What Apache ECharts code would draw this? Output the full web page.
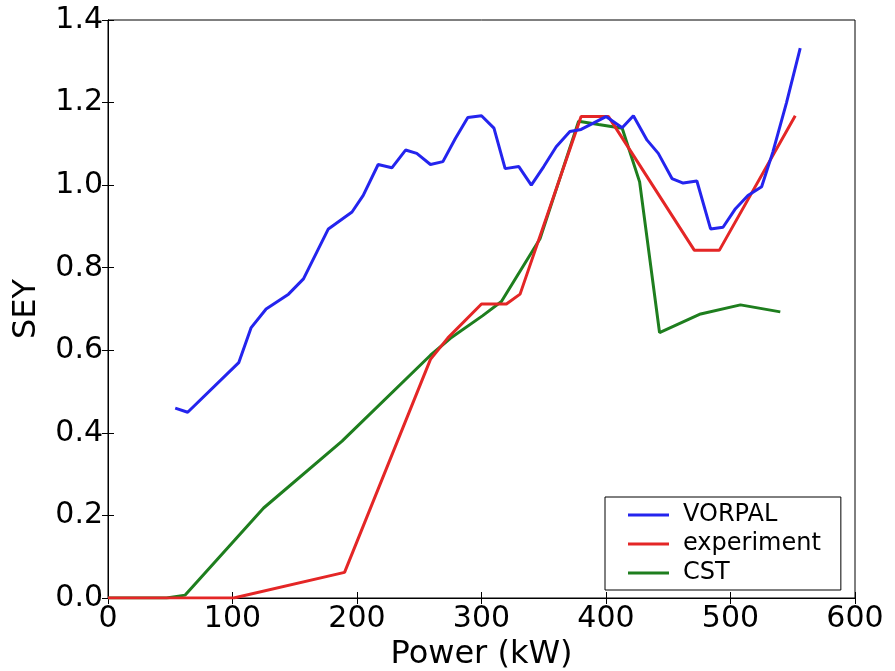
<!DOCTYPE html>
<html>
<head>
<meta charset="utf-8">
<script src="https://cdn.jsdelivr.net/npm/echarts@6/dist/echarts.min.js"></script>
<style>
  html, body { margin: 0; padding: 0; background: #fff; }
  #chart { width: 895px; height: 671px; }
</style>
</head>
<body>
<div id="chart"></div>
<script>
// values
const vorpalX = [54, 64, 105, 115, 127, 145, 157, 177, 196, 205, 217, 228, 239, 248, 259, 269, 279, 289, 300, 310, 319, 330, 340, 350, 360, 371, 380, 400, 413, 422, 433, 442, 453, 462, 473, 484, 494, 504, 514, 525, 534, 545, 556]
const vorpalY = [0.46, 0.45, 0.57, 0.655, 0.70, 0.736, 0.773, 0.894, 0.935, 0.975, 1.05, 1.042, 1.085, 1.077, 1.05, 1.057, 1.113, 1.164, 1.168, 1.138, 1.04, 1.045, 1.0, 1.045, 1.093, 1.13, 1.135, 1.166, 1.139, 1.168, 1.109, 1.077, 1.016, 1.005, 1.01, 0.894, 0.898, 0.943, 0.975, 0.996, 1.08, 1.2, 1.332]

const experimentX = [0, 101, 190, 259, 273, 300, 320, 331, 380, 402, 471, 491, 552]
const experimentY = [0, 0, 0.062, 0.578, 0.63, 0.712, 0.712, 0.736, 1.166, 1.166, 0.842, 0.842, 1.168]

const cstX = [0, 47, 62, 125, 188, 259, 275, 301, 316, 347, 378, 394, 413, 427, 443, 476, 508, 540]
const cstY = [0, 0, 0.007, 0.218, 0.38, 0.588, 0.629, 0.684, 0.718, 0.87, 1.155, 1.147, 1.138, 1.008, 0.643, 0.688, 0.71, 0.693]

const seriesNames = ['VORPAL', 'experiment', 'CST']
const seriesColors = ['#2424ee', '#e42626', '#1e7e1e']

const pairs = (xs, ys) => xs.map((x, i) => [x, ys[i]])

const font = 'DejaVu Sans'
const chart = echarts.init(document.getElementById('chart'))

const baseX = {
  type: 'value',
  min: 0,
  max: 600,
  interval: 100,
  axisLine: { lineStyle: { color: '#000', width: 1 } },
  axisTick: { inside: true, length: 6, lineStyle: { color: '#000' } },
  splitLine: { show: false }
}
const baseY = {
  type: 'value',
  min: 0,
  max: 1.4,
  interval: 0.2,
  axisLine: { show: true, lineStyle: { color: '#000', width: 1 } },
  axisTick: { show: true, inside: true, length: 6, lineStyle: { color: '#000' } },
  splitLine: { show: false }
}

chart.setOption({
  animation: false,
  grid: {
    left: 108,
    right: 40,
    top: 20,
    bottom: 73,
    outerBoundsMode: 'none',
    show: true,
    borderColor: '#000',
    borderWidth: 1
  },
  legend: {
    data: seriesNames,
    orient: 'vertical',
    left: 605,
    top: 497,
    icon: 'rect',
    itemWidth: 41,
    itemHeight: 3,
    itemGap: 5,
    padding: [6, 20, 5, 23],
    borderColor: '#000',
    borderWidth: 1,
    borderRadius: 0,
    backgroundColor: '#fff',
    textStyle: { fontFamily: font, fontSize: 24, color: '#000', padding: [0, 0, 0, 9] }
  },
  xAxis: [
    Object.assign({}, baseX, {
      position: 'bottom',
      name: 'Power (kW)',
      nameLocation: 'middle',
      nameGap: 36,
      nameTextStyle: { fontFamily: font, fontSize: 32, color: '#000' },
      axisLabel: { margin: 6, fontFamily: font, fontSize: 30, color: '#000' }
    }),
    Object.assign({}, baseX, { position: 'top', axisLabel: { show: false } })
  ],
  yAxis: [
    Object.assign({}, baseY, {
      position: 'left',
      name: 'SEY',
      nameLocation: 'middle',
      nameGap: 65,
      nameTextStyle: { fontFamily: font, fontSize: 32, color: '#000' },
      axisLabel: {
        margin: 5,
        fontFamily: font,
        fontSize: 30,
        color: '#000',
        formatter: v => v.toFixed(1)
      }
    }),
    Object.assign({}, baseY, { position: 'right', axisLabel: { show: false } })
  ],
  series: [
    [vorpalX, vorpalY],
    [experimentX, experimentY],
    [cstX, cstY]
  ].map(([xs, ys], i) => ({
    name: seriesNames[i],
    type: 'line',
    data: pairs(xs, ys),
    symbol: 'none',
    color: seriesColors[i],
    lineStyle: { width: 3, color: seriesColors[i] },
    z: 3 - i
  }))
})
</script>
</body>
</html>
